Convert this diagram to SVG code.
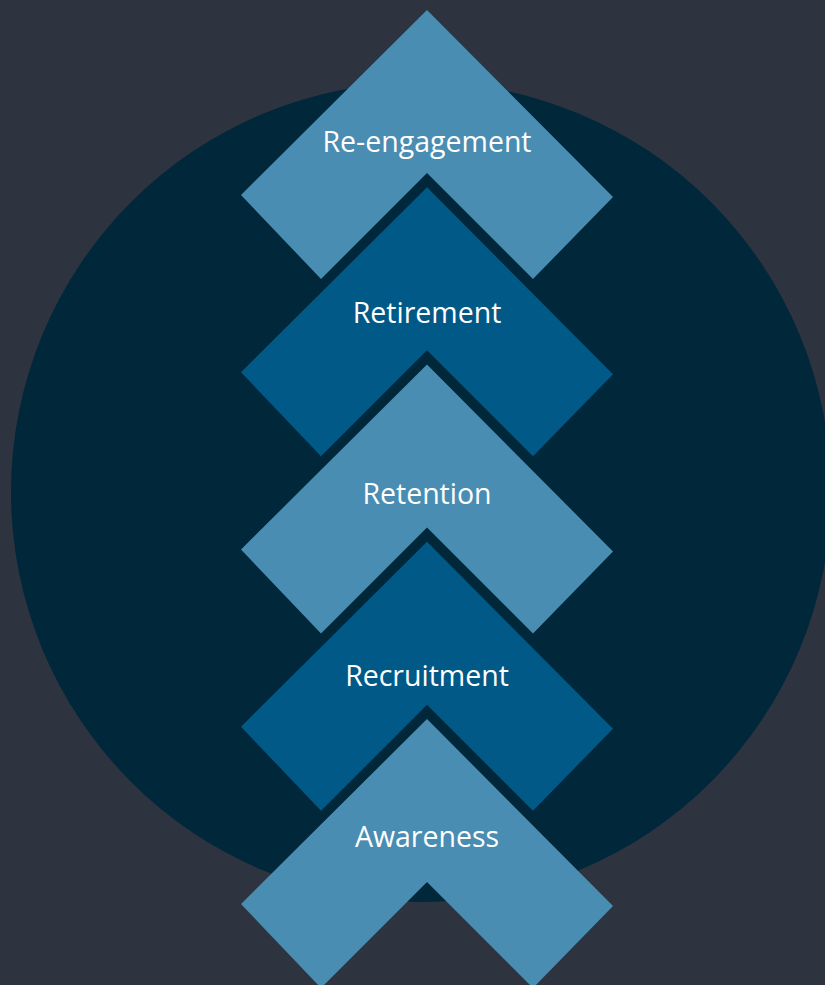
<svg xmlns="http://www.w3.org/2000/svg" xmlns:xlink="http://www.w3.org/1999/xlink" width="825" height="985" viewBox="0 0 825 985">
  <style>
    .light { fill: #4a8db2; }
    .dark { fill: #005987; }
    .label { font-family: "Open Sans", "Noto Sans", "DejaVu Sans", sans-serif; font-size: 28.5px; fill: #ffffff; text-anchor: middle; }
  </style>
  <defs>
    <polygon id="chev" points="427,0 613,187 533,269 427,163 321,269 241,185"/>
  </defs>
  <rect x="0" y="0" width="825" height="985" fill="#2d3440"/>
  <g id="background-circle">
    <circle cx="421" cy="492" r="410" fill="#00273a"/>
  </g>
  <g id="connectors"/>
  <g id="awareness">
    <use xlink:href="#chev" class="light" transform="translate(0,719)"/>
    <text class="label" x="427" y="847">Awareness</text>
  </g>
  <g id="recruitment">
    <use xlink:href="#chev" class="dark" transform="translate(0,541.75)"/>
    <text class="label" x="427" y="686">Recruitment</text>
  </g>
  <g id="retention">
    <use xlink:href="#chev" class="light" transform="translate(0,364.5)"/>
    <text class="label" x="427" y="504">Retention</text>
  </g>
  <g id="retirement">
    <use xlink:href="#chev" class="dark" transform="translate(0,187.25)"/>
    <text class="label" x="427" y="323">Retirement</text>
  </g>
  <g id="re-engagement">
    <use xlink:href="#chev" class="light" transform="translate(0,10)"/>
    <text class="label" x="427" y="152">Re-engagement</text>
  </g>
</svg>
